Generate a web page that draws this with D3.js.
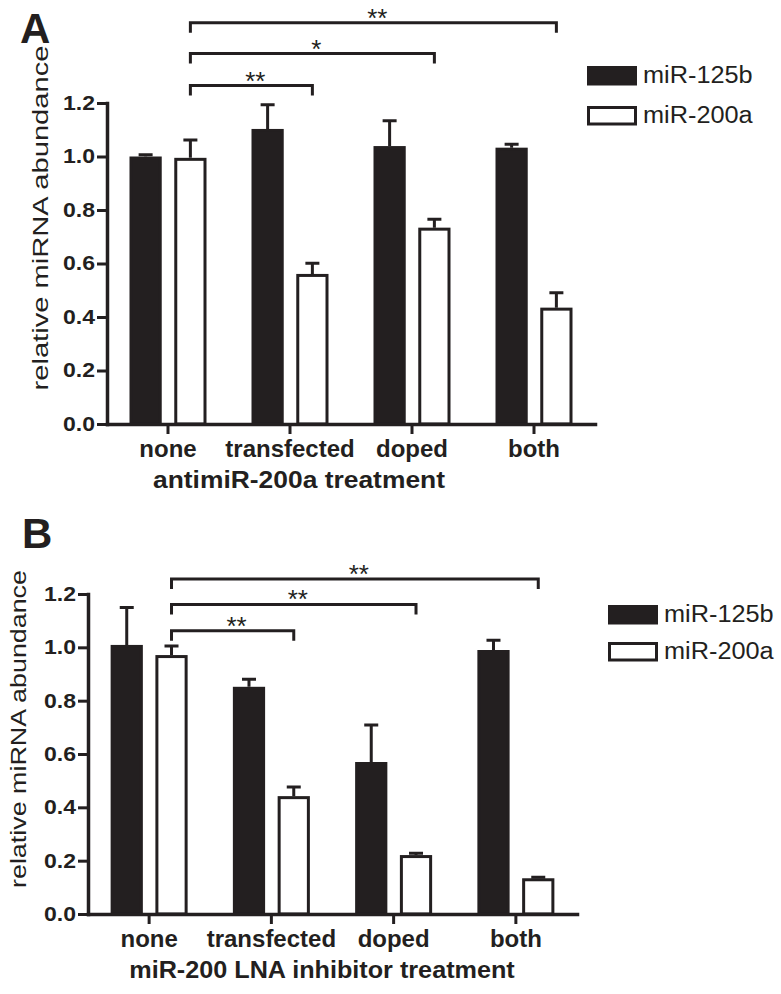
<!DOCTYPE html>
<html><head><meta charset="utf-8">
<script src="https://cdn.jsdelivr.net/npm/d3@7"></script>
<style>body{margin:0;background:#fff} svg{display:block}</style>
</head><body>
<svg id="chart" width="781" height="994"></svg>
<script>
// ---------- data ----------
const categories = ["none", "transfected", "doped", "both"];
const seriesNames = ["miR-125b", "miR-200a"];
const yTickValues = [0, 0.2, 0.4, 0.6, 0.8, 1.0, 1.2];
const yTickLabels = ["0.0", "0.2", "0.4", "0.6", "0.8", "1.0", "1.2"];

const panelA_mir125b     = [1.000, 1.103, 1.039, 1.033];
const panelA_mir125b_err = [0.007, 0.090, 0.095, 0.013];
const panelA_mir200a     = [0.995, 0.561, 0.734, 0.435];
const panelA_mir200a_err = [0.067, 0.040, 0.031, 0.056];
const panelA_sigTo    = [1, 2, 3];
const panelA_sigLevel = [1.265, 1.385, 1.50];
const panelA_sigLabel = ["**", "*", "**"];
const panelA_xTitle = "antimiR-200a treatment";

const panelB_mir125b     = [1.009, 0.852, 0.570, 0.990];
const panelB_mir125b_err = [0.140, 0.028, 0.139, 0.037];
const panelB_mir200a     = [0.971, 0.442, 0.221, 0.134];
const panelB_mir200a_err = [0.034, 0.034, 0.007, 0.004];
const panelB_sigTo    = [1, 2, 3];
const panelB_sigLevel = [1.062, 1.161, 1.256];
const panelB_sigLabel = ["**", "**", "**"];
const panelB_xTitle = "miR-200 LNA inhibitor treatment";

const yTitle = "relative miRNA abundance";

// ---------- drawing ----------
const INK = "#231f20";
const FONT = "'Liberation Sans', Arial, Helvetica, sans-serif";
const svg = d3.select("#chart");

function fit(sel, factor) {
  sel.each(function () {
    const n = this.getComputedTextLength();
    d3.select(this).attr("textLength", n * factor).attr("lengthAdjust", "spacingAndGlyphs");
  });
}

function drawPanel(cfg, m125, e125, m200, e200, sigTo, sigLevel, sigLabel, xTitle) {
  const g = svg.append("g");
  const x = d3.scaleBand().domain(categories).range([cfg.left, cfg.left + cfg.width]);
  const xs = d3.scaleBand().domain(seriesNames).range([-38.5, 38.5]).paddingInner(0.28);
  const y = d3.scaleLinear().domain([0, 1.2]).range([cfg.bottom, cfg.top]);
  const color = d3.scaleOrdinal().domain(seriesNames).range([INK, "#ffffff"]);

  const rows = categories.map((c, i) => ({
    cat: c,
    vals: [
      { s: seriesNames[0], v: m125[i], e: e125[i] },
      { s: seriesNames[1], v: m200[i], e: e200[i] }
    ]
  }));
  const cx = (c, s) => x(c) + x.bandwidth() / 2 + xs(s) + xs.bandwidth() / 2;

  const grp = g.selectAll("g.grp").data(rows).join("g").attr("class", "grp");
  grp.selectAll("path.err").data(d => d.vals.map(v => ({ ...v, cat: d.cat }))).join("path")
    .attr("class", "err")
    .attr("d", d => {
      const c = cx(d.cat, d.s), y0 = y(d.v), y1 = y(d.v + d.e);
      return `M${c},${y0}V${y1}M${c - 7},${y1}H${c + 7}`;
    })
    .attr("fill", "none").attr("stroke", INK).attr("stroke-width", 3);
  grp.selectAll("rect").data(d => d.vals.map(v => ({ ...v, cat: d.cat }))).join("rect")
    .attr("x", d => x(d.cat) + x.bandwidth() / 2 + xs(d.s) + 1.5)
    .attr("y", d => y(d.v) + 1.5)
    .attr("width", xs.bandwidth() - 3)
    .attr("height", d => y(0) - y(d.v) - 1.5)
    .attr("fill", d => color(d.s))
    .attr("stroke", INK).attr("stroke-width", 3);

  const ya = g.append("g").attr("transform", `translate(${cfg.left},0)`)
    .call(d3.axisLeft(y).tickValues(yTickValues).tickFormat((d, i) => yTickLabels[i])
      .tickSize(10).tickSizeOuter(0).tickPadding(2));
  ya.select(".domain").attr("stroke", INK).attr("stroke-width", 3.5).attr("stroke-linecap", "square");
  ya.selectAll(".tick line").attr("stroke", INK).attr("stroke-width", 3);
  ya.selectAll(".tick text").attr("fill", INK).style("font-family", FONT)
    .style("font-weight", "bold").style("font-size", "20px");
  fit(ya.selectAll(".tick text"), 1.15);

  const xa = g.append("g").attr("transform", `translate(0,${cfg.bottom})`)
    .call(d3.axisBottom(x).tickSize(10).tickSizeOuter(0));
  xa.select(".domain").attr("stroke", INK).attr("stroke-width", 3.5).attr("stroke-linecap", "square");
  xa.selectAll(".tick line").attr("stroke", INK).attr("stroke-width", 3);
  xa.selectAll(".tick text").attr("fill", INK).attr("y", 33).attr("dy", 0)
    .style("font-family", FONT).style("font-weight", "bold").style("font-size", "24px");

  const xt = g.append("text").attr("x", cfg.xTitleX).attr("y", cfg.xTitleY)
    .attr("text-anchor", "middle").attr("fill", INK)
    .style("font-family", FONT).style("font-weight", "bold").style("font-size", "24px")
    .text(xTitle);
  fit(xt, cfg.xTitleFit);

  g.append("text")
    .attr("transform", `translate(${cfg.yTitleX},${cfg.yTitleY}) rotate(-90)`)
    .attr("text-anchor", "middle").attr("fill", INK)
    .attr("textLength", cfg.yTitleLen).attr("lengthAdjust", "spacingAndGlyphs")
    .style("font-family", FONT).style("font-size", "22px")
    .text(yTitle);

  g.append("text").attr("x", cfg.letterX).attr("y", cfg.letterY).attr("fill", INK)
    .style("font-family", FONT).style("font-weight", "bold").style("font-size", "42px")
    .text(cfg.letter);

  const sig = sigTo.map((t, i) => ({ to: t, level: sigLevel[i], label: sigLabel[i] }));
  const sg = g.selectAll("g.sig").data(sig).join("g").attr("class", "sig");
  sg.append("path")
    .attr("d", d => {
      const x1 = cx(categories[0], seriesNames[1]), x2 = cx(categories[d.to], seriesNames[1]);
      const yy = y(d.level);
      return `M${x1},${yy + 10}V${yy}H${x2}V${yy + 10}`;
    })
    .attr("fill", "none").attr("stroke", INK).attr("stroke-width", 3);
  sg.append("text")
    .attr("x", d => (cx(categories[0], seriesNames[1]) + cx(categories[d.to], seriesNames[1])) / 2 + 4)
    .attr("y", d => y(d.level) + 4)
    .attr("text-anchor", "middle").attr("fill", INK)
    .style("font-family", FONT).style("font-size", "26px")
    .text(d => d.label);

  const lg = g.append("g").attr("transform", `translate(${cfg.legendX},${cfg.legendY})`);
  const li = lg.selectAll("g").data(seriesNames).join("g")
    .attr("transform", (d, i) => `translate(0,${i * cfg.legendStep})`);
  li.append("rect").attr("x", 1.5).attr("y", 1.5).attr("width", 47).attr("height", 16.5)
    .attr("fill", d => color(d)).attr("stroke", INK).attr("stroke-width", 3);
  const lt = li.append("text").attr("x", 56).attr("y", 17).attr("fill", INK)
    .style("font-family", FONT).style("font-size", "23px").text(d => d);
  fit(lt, 1.1);
}

drawPanel({
  left: 107, width: 488, top: 103, bottom: 424,
  xTitleX: 299, xTitleY: 488, xTitleFit: 1.1,
  yTitleX: 48, yTitleY: 218, yTitleLen: 345,
  letter: "A", letterX: 20, letterY: 43,
  legendX: 587, legendY: 66, legendStep: 40
}, panelA_mir125b, panelA_mir125b_err, panelA_mir200a, panelA_mir200a_err,
   panelA_sigTo, panelA_sigLevel, panelA_sigLabel, panelA_xTitle);

drawPanel({
  left: 88, width: 489, top: 594, bottom: 914,
  xTitleX: 322, xTitleY: 978, xTitleFit: 1.05,
  yTitleX: 26, yTitleY: 729, yTitleLen: 318,
  letter: "B", letterX: 22, letterY: 548,
  legendX: 608, legendY: 605, legendStep: 37
}, panelB_mir125b, panelB_mir125b_err, panelB_mir200a, panelB_mir200a_err,
   panelB_sigTo, panelB_sigLevel, panelB_sigLabel, panelB_xTitle);
</script>
</body></html>
